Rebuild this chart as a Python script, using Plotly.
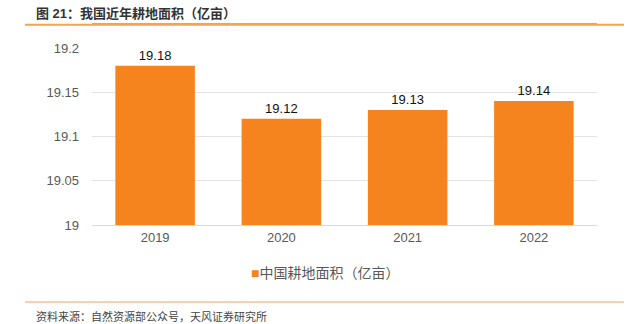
import plotly.graph_objects as go

years = ["2019", "2020", "2021", "2022"]
area = [19.18, 19.12, 19.13, 19.14]
series_name = "中国耕地面积（亿亩）"
tick_vals = [19, 19.05, 19.1, 19.15, 19.2]
tick_text = ["19", "19.05", "19.1", "19.15", "19.2"]

W, H = 631, 324
FONT = "Liberation Sans, Noto Sans CJK SC, sans-serif"
ORANGE = "#F5841F"
RULE = "#F7A155"

# paper spans the two orange rules: x 25..624, y 24..302 (pixels)
PL, PR, PT, PB = 25, 624, 24, 302
PW, PH = PR - PL, PB - PT


def px_x(x):
    return (x - PL) / PW


def px_y(y):
    return (PB - y) / PH


# bar plot area inside the paper: x 92..597, y 48..225
x_dom = [px_x(92), px_x(597)]
y_dom = [px_y(225), px_y(48)]

fig = go.Figure()
fig.add_trace(go.Bar(
    x=years, y=area, name=series_name,
    marker=dict(color=ORANGE, line=dict(width=0)),
    text=[f"{v:.2f}" for v in area], textposition="outside",
    textfont=dict(size=13, color="#111111", family=FONT),
    cliponaxis=False, width=0.63, showlegend=False,
))
# empty helper trace so the top rule axis gets drawn
fig.add_trace(go.Scatter(x=[None], y=[None], xaxis="x2", yaxis="y",
                         showlegend=False, hoverinfo="skip"))

fig.update_layout(
    width=W, height=H,
    margin=dict(l=PL, r=W - PR, t=PT, b=H - PB, pad=0),
    paper_bgcolor="white", plot_bgcolor="white",
    font=dict(family=FONT, color="#595959", size=13),
    showlegend=False,
    xaxis=dict(type="category", domain=x_dom, showgrid=False, showline=True,
               linecolor="#d9d9d9", linewidth=1, ticks="",
               tickfont=dict(size=13, color="#595959")),
    # top orange rule drawn as the line of a free-standing axis
    xaxis2=dict(domain=[0, 1], anchor="free", position=1, overlaying="x",
                side="top", showline=True, linecolor=RULE, linewidth=2,
                showgrid=False, zeroline=False, showticklabels=False, ticks="",
                range=[0, 1], fixedrange=True),
    yaxis=dict(range=[19, 19.2], domain=y_dom, tickvals=tick_vals, ticktext=tick_text,
               showgrid=True, gridcolor="#e3e3e3", gridwidth=1, zeroline=False,
               showline=False, ticks="", ticklabelstandoff=12,
               tickfont=dict(size=13, color="#595959")),
    shapes=[
        dict(type="line", xref="paper", yref="paper", x0=0, x1=1, y0=0.997, y1=0.997,
             line=dict(color=RULE, width=2)),
        dict(type="line", xref="paper", yref="paper", x0=0, x1=1, y0=0, y1=0,
             line=dict(color=RULE, width=1)),
    ],
    annotations=[
        dict(text="<b>图 21：我国近年耕地面积（亿亩）</b>", xref="paper", yref="paper",
             x=px_x(34), y=px_y(13), xanchor="left", yanchor="middle",
             showarrow=False, font=dict(size=13, color="#333333", family=FONT)),
        dict(text=f"<span style='color:{ORANGE}'>■</span>{series_name}",
             xref="paper", yref="paper",
             x=px_x(325), y=px_y(273), xanchor="center", yanchor="middle",
             showarrow=False, font=dict(size=14, color="#595959", family=FONT)),
        dict(text="资料来源：自然资源部公众号，天风证券研究所", xref="paper", yref="paper",
             x=px_x(34), y=px_y(316), xanchor="left", yanchor="middle",
             showarrow=False, font=dict(size=11, color="#444444", family=FONT)),
    ],
)

fig.write_html("out.html")
